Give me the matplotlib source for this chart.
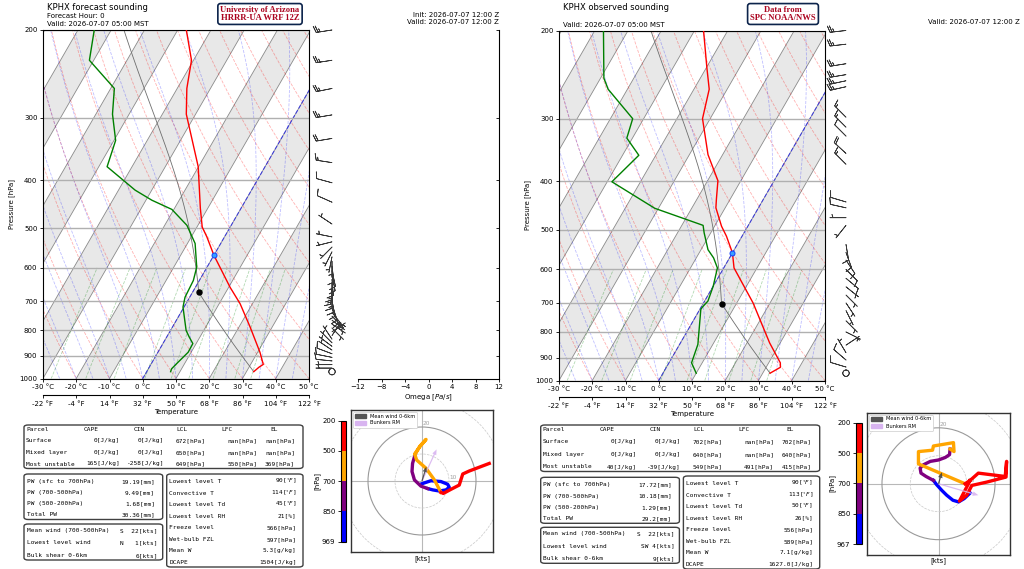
import numpy as np
import matplotlib
matplotlib.use('Agg')
import matplotlib.pyplot as plt
from matplotlib import transforms
from matplotlib.colors import ListedColormap, BoundaryNorm
from matplotlib.cm import ScalarMappable
from matplotlib.patches import FancyBboxPatch, Patch, Circle
from matplotlib.ticker import NullLocator, NullFormatter

# ======================= DATA =======================
# --- forecast sounding (HRRR-UA WRF) ---
f_T_p = [969, 949, 937, 886, 789, 708, 656, 566, 520, 497, 456, 376, 295, 262, 230, 200]
f_T = [32.2, 33.0, 33.8, 30.7, 23.4, 16.3, 10.4, 0.0, -5.3, -8.4, -12.2, -20.1, -32.8, -37.1, -40.6, -47.4]
f_Td_p = [969, 956, 934, 886, 851, 826, 801, 719, 687, 636, 598, 536, 493, 458, 439, 419, 376, 333, 295, 262, 230, 200]
f_Td = [7.2, 7.0, 7.6, 9.1, 9.0, 6.8, 4.7, -0.3, -1.4, -1.8, -3.1, -7.7, -13.3, -20.6, -28.2, -35.0, -47.5, -49.5, -55.0, -58.9, -71.3, -75.1]

# --- observed sounding (SPC) ---
o_T_p = [967, 941, 922, 841, 700, 596, 556, 515, 492, 452, 435, 399, 354, 300, 262, 237, 200]
o_T = [32.2, 34.3, 33.5, 26.8, 14.9, 3.1, 0.0, -4.7, -7.9, -12.8, -14.1, -16.9, -24.4, -32.3, -35.4, -39.9, -47.3]
o_Td_p = [967, 922, 847, 721, 713, 694, 648, 596, 569, 548, 507, 490, 453, 401, 355, 328, 300, 262, 249, 200]
o_Td = [10.0, 6.8, 5.5, 0.3, 0.4, 1.0, 0.0, -1.9, -4.8, -7.9, -12.0, -13.6, -31.1, -48.6, -45.1, -51.7, -53.3, -65.8, -69.0, -77.4]

# --- wind barbs (hPa, kts) ---
f_barb_p = [200, 230, 262, 296, 330, 369, 405, 443, 490, 520, 532, 545, 557, 570, 582, 595, 608, 620, 633,
            646, 659, 672, 685, 698, 711, 724, 737, 750, 764, 778, 792, 806, 820, 834, 848, 862, 877, 892,
            907, 922, 938, 953, 969]
f_barb_u = [26, 26, 25, 24, 18, 13, 11, 9, 6, 5, 4, 3, 2, 1, 0, -1, -2, -2, -1, 0, 1, 0, -1, -2, -3, -3,
            -4, -4, -4, -3, -3, -3, -2, 2, 3, 4, 6, 8, 10, 10, 7, 4, 0]
f_barb_v = [4, 4, 5, 4, 3, -2, -3, -4, -4, -1, 1, 3, 4, 5, 6, 8, 9, 10, 12, 13, 14, 13, 12, 10, 9, 7, 5,
            4, 3, 2, 3, -2, -3, -3, -3, -3, -4, -3, -2, -1, 0, 0, -1]
o_barb_p = [200, 213, 233, 245, 252, 259, 298, 312, 325, 352, 370, 440, 452, 473, 490, 535, 555, 575, 600,
            625, 650, 675, 700, 725, 760, 800, 850, 880, 910, 940, 967]
o_barb_u = [27, 26, 25, 24, 23, 22, 9, 9, 8, 13, 11, 10, 9, 6, 4, -2, -4, -6, -7, -6, -5, -3, -2, -3, -5,
            -6, -3, 3, 7, 10, 1]
o_barb_v = [3, 3, 4, 4, 5, 5, -9, -9, -8, -12, -11, -3, -2, 0, 5, 12, 11, 9, 7, 5, 4, 3, 3, 6, 5, 3, -2,
            -5, -6, -3, 1]

# --- hodographs (kts) per layer ---
f_blue_u = [0, 3.3, 7.0, 9.5, 10.1, 8.9, 6.4, 4.0, 2.1]
f_blue_v = [-1, 0.1, -0.2, -1.2, -2.3, -3.3, -3.7, -3.3, -2.8]
f_purple_u = [2.1, -0.4, -2.8, -3.7, -3.5, -2.5]
f_purple_v = [-2.8, -1.9, 0.4, 3.5, 6.5, 10.0]
f_orange_u = [-2.5, -0.7, 1.5, -1.0, -2.7, -2.0, 1.5, 4.6, 7.0]
f_orange_v = [10.0, 13.0, 15.4, 12.5, 10.0, 7.8, 4.7, 0.4, -4.2]
f_red_u = [7.0, 7.9, 10.7, 13.8, 15.1, 17.5, 21.2, 24.9]
f_red_v = [-4.2, -4.6, -3.1, -1.5, 2.6, 3.7, 5.1, 6.5]
f_mean_wind = [1.6, 5.3]
f_bunkers = [5.4, 11.7]

o_blue_u = [11.2, 9.1, 7.1, 5.1, 2.9, 1.2, -0.6, -1.8]
o_blue_v = [-3.3, -5.3, -6.5, -5.9, -4.1, -2.4, -0.4, 1.2]
o_purple_u = [-1.8, -4.4, -6.2, -6.5, -5.3, -2.9, 0.0, 2.4, 3.9, 4.1]
o_purple_v = [1.2, 2.6, 3.8, 5.6, 6.8, 8.0, 8.5, 9.4, 10.4, 12.4]
o_orange_u = [4.1, 5.5, 5.3, -1.8, -2.1, -7.1, -7.1, 9.4]
o_orange_v = [12.4, 11.5, 14.7, 13.5, 12.0, 11.5, 7.1, 0.0]
o_red_u = [9.4, 11.2, 7.4, 10.0, 11.8, 17.1, 23.9, 24.1, 23.6, 14.1, 11.2]
o_red_v = [0.0, 1.2, -6.2, -4.1, -0.6, 0.6, 2.4, 8.0, 2.6, 3.8, 1.2]
o_mean_wind = [1.2, 4.1]
o_bunkers = [14.1, -4.1]

hodo_bounds_f = [200, 500, 700, 850, 969]
hodo_bounds_o = [200, 500, 700, 850, 967]

# --- tables ---
parcel_names = ['Surface', 'Mixed layer', 'Most unstable']
f_cape = [0, 0, 165]
f_cin = [0, 0, -258]
f_lcl = [672, 650, 649]
f_lfc = [np.nan, np.nan, 550]
f_el = [np.nan, np.nan, 369]
o_cape = [0, 0, 40]
o_cin = [0, 0, -39]
o_lcl = [702, 640, 549]
o_lfc = [np.nan, np.nan, 491]
o_el = [702, 640, 415]

pw_names = ['PW (sfc to 700hPa)', 'PW (700-500hPa)', 'PW (500-200hPa)', 'Total PW']
f_pw = ['19.19', '9.49', '1.68', '30.36']
o_pw = ['17.72', '10.18', '1.29', '29.2']

wind_names = ['Mean wind (700-500hPa)', 'Lowest level wind', 'Bulk shear 0-6km']
f_wind = ['S  22', 'N   1', '6']
o_wind = ['S  22', 'SW 4', '9']

misc_names = ['Lowest level T', 'Convective T', 'Lowest level Td', 'Lowest level RH',
              'Freeze level', 'Wet-bulb FZL', 'Mean W', 'DCAPE']
misc_units = [r'[$^{\circ}F$]', r'[$^{\circ}F$]', r'[$^{\circ}F$]', '[%]', '[hPa]', '[hPa]', '[g/kg]', '[J/kg]']
f_misc = ['90', '114', '45', '21', '566', '597', '5.3', '1504']
o_misc = ['90', '113', '50', '26', '556', '589', '7.1', '1627.0']

f_sfc = (969, 32.2, 7.2)     # p, T, Td of lowest level
o_sfc = (967, 32.2, 10.0)
f_freeze = 566
o_freeze = 556

p_ticks = [200, 300, 400, 500, 600, 700, 800, 900, 1000]
c_ticks = [-30, -20, -10, 0, 10, 20, 30, 40, 50]
f_ticks = [-22, -4, 14, 32, 50, 68, 86, 104, 122]

# ======================= SETUP =======================
plt.rcParams['font.family'] = ['DejaVu Sans']
plt.rcParams['font.size'] = 5.0
plt.rcParams['axes.linewidth'] = 0.8
for a in ('xtick', 'ytick'):
    plt.rcParams[a + '.major.size'] = 2.5
    plt.rcParams[a + '.major.width'] = 0.6
    plt.rcParams[a + '.major.pad'] = 1.5
    plt.rcParams[a + '.labelsize'] = 5.0

W, H = 1024, 569
fig = plt.figure(figsize=(W / 100, H / 100), dpi=100)
fig.patch.set_facecolor('white')


def frect(x0, y0, x1, y1):
    return [x0 / W, 1 - y1 / H, (x1 - x0) / W, (y1 - y0) / H]


def ftext(x, y, s, **kw):
    kw.setdefault('va', 'center')
    return fig.text(x / W, 1 - y / H, s, **kw)


RD, CP, LV, EPS = 287.04, 1005.7, 2.501e6, 0.622


def es(tc):
    return 6.112 * np.exp(17.67 * tc / (tc + 243.5))


def dTdp(p, T):
    tc = T - 273.15
    e = es(tc)
    rs = EPS * e / (p - e)
    return (RD * T + LV * rs) / (p * (CP + LV * LV * rs * EPS / (RD * T * T)))


def moist_profile(t0c, p):
    T = np.empty((len(p),) + np.shape(t0c))
    T[0] = np.asarray(t0c) + 273.15
    for i in range(1, len(p)):
        h = p[i] - p[i - 1]
        x, y = p[i - 1], T[i - 1]
        k1 = dTdp(x, y)
        k2 = dTdp(x + h / 2, y + h / 2 * k1)
        k3 = dTdp(x + h / 2, y + h / 2 * k2)
        k4 = dTdp(x + h, y + h * k3)
        T[i] = y + h / 6 * (k1 + 2 * k2 + 2 * k3 + k4)
    return T - 273.15


def draw_skewt(px, T_p, T, Td_p, Td, sfc, lcl_p, frz_p):
    x0, y0, x1, y1 = px
    ax = fig.add_axes(frect(x0, y0, x1, y1))
    ax.set_yscale('log')
    ax.set_xlim(-30, 50)
    ax.set_ylim(1000, 200)
    ax.set_autoscale_on(False)
    shear = np.arctan(np.tan(np.radians(30)) * (y1 - y0) / (x1 - x0))
    sk = ax.transScale + ax.transLimits + transforms.Affine2D().skew(shear, 0) + ax.transAxes

    pp = np.geomspace(1050, 100, 120)
    for t in range(-120, 60, 20):
        ax.fill([t, t + 10, t + 10, t], [1050, 1050, 100, 100], transform=sk,
                color='#e8e8e8', lw=0, zorder=0.2)
    for t in range(-110, 70, 10):
        ax.plot([t, t], [1050, 100], transform=sk, color='#8a8a8a', lw=0.6, zorder=0.4)
    # dry adiabats
    for t0 in np.arange(-40, 201, 10):
        ax.plot((t0 + 273.15) * (pp / 1000.0) ** (RD / CP) - 273.15, pp, transform=sk,
                color='red', alpha=0.3, lw=0.6, ls='--', zorder=0.5)
    # moist adiabats
    pm = np.geomspace(1000, 100, 160)
    tm = moist_profile(np.arange(-40, 46, 5.0), pm)
    for j in range(tm.shape[1]):
        ax.plot(tm[:, j], pm, transform=sk, color='blue', alpha=0.25, lw=0.6, ls='--', zorder=0.5)
    # mixing ratio lines
    pw_ = np.linspace(1000, 600, 30)
    for w in [0.4, 1, 2, 4, 7, 10, 16, 24, 32]:
        wk = w / 1000.0
        e = wk * pw_ / (EPS + wk)
        l = np.log(e / 6.112)
        ax.plot(243.5 * l / (17.67 - l), pw_, transform=sk, color='green', alpha=0.3,
                lw=0.6, ls='--', zorder=0.5)
    # 0 C isotherm
    ax.plot([0, 0], [1050, 100], transform=sk, color='blue', alpha=0.6, lw=0.8, ls='--', zorder=0.6)

    # parcel path
    p_s, t_s, td_s = sfc
    pd = np.linspace(p_s, lcl_p, 40)
    td_path = (t_s + 273.15) * (pd / p_s) ** (RD / CP) - 273.15
    t_lcl = td_path[-1]
    pmo = np.geomspace(lcl_p, 150, 120)
    tmo = moist_profile(t_lcl, pmo)
    ax.plot(np.r_[td_path, tmo[1:]], np.r_[pd, pmo[1:]], transform=sk, color='#6e6e6e',
            lw=0.6, zorder=2)
    ax.plot([t_lcl], [lcl_p], 'o', color='black', ms=3.6, transform=sk, zorder=4)

    ax.plot(T, T_p, transform=sk, color='red', lw=1.0, zorder=3)
    ax.plot(Td, Td_p, transform=sk, color='green', lw=1.0, zorder=3)
    ax.plot([0], [frz_p], 'o', transform=sk, mfc='#39a0ff', mec='#1040ff', ms=3.6, mew=0.7, zorder=4)

    ax.set_yticks(p_ticks)
    ax.set_yticklabels([str(p) for p in p_ticks])
    ax.yaxis.set_minor_locator(NullLocator())
    ax.yaxis.set_minor_formatter(NullFormatter())
    ax.grid(True, axis='y', color='#b0b0b0', lw=1.0)
    ax.set_xticks(c_ticks)
    ax.set_xticklabels([f'{c} °C' for c in c_ticks])
    ax.set_ylabel('Pressure [hPa]', labelpad=3)
    sec = ax.secondary_xaxis(-0.048, functions=(lambda c: c * 1.8 + 32, lambda f: (f - 32) / 1.8))
    sec.set_xticks(f_ticks)
    sec.set_xticklabels([f'{v} °F' for v in f_ticks])
    sec.set_xlabel('Temperature', labelpad=1.5)
    return ax


def draw_barbs(px, bp, bu, bv):
    x0, y0, x1, y1 = px
    ax = fig.add_axes(frect(x0, y0, x1, y1))
    ax.set_yscale('log')
    ax.set_ylim(1000, 200)
    ax.set_xlim(0, 1)
    ax.axis('off')
    ax.barbs(np.full(len(bp), 0.5), bp, bu, bv, length=4.8, lw=0.55, color='#383838',
             clip_on=False, sizes=dict(emptybarb=0.2))
    return ax


def draw_hodo(px, lim, layers, mean_uv, bunk_uv, cpx, bounds):
    x0, y0, x1, y1 = px
    ax = fig.add_axes(frect(x0, y0, x1, y1))
    ax.set_xlim(-lim, lim)
    ax.set_ylim(-lim, lim)
    ax.set_xticks([])
    ax.set_yticks([])
    for s in ax.spines.values():
        s.set_color('#333333')
        s.set_linewidth(1.0)
    ax.axhline(0, color='#b8b8b8', lw=0.8, zorder=1)
    ax.axvline(0, color='#b8b8b8', lw=0.8, zorder=1)
    for r in (10, 20, 30, 40):
        solid = (r % 20 == 0)
        ax.add_patch(Circle((0, 0), r, fill=False, ec='#9a9a9a' if solid else '#c8c8c8',
                            ls='-' if solid else '--', lw=0.8 if solid else 0.5, zorder=1))
    ax.text(10.2, 0.2, '10', color='#a0a0a0', fontsize=4.2, ha='left', va='bottom', zorder=1)
    ax.text(0.3, 20.2, '20', color='#a0a0a0', fontsize=4.2, ha='left', va='bottom', zorder=1)
    for (u, v), c in zip(layers, ['blue', 'purple', 'orange', 'red']):
        ax.plot(u, v, color=c, lw=2.4, zorder=3)
    ax.arrow(0, 0, bunk_uv[0], bunk_uv[1], width=0.45, head_width=1.6, head_length=2.0,
             length_includes_head=True, color='#d8b4f0', alpha=0.9, zorder=4, lw=0)
    ax.arrow(0, 0, mean_uv[0], mean_uv[1], width=0.45, head_width=1.6, head_length=2.0,
             length_includes_head=True, color='#3c3c3c', alpha=0.85, zorder=5, lw=0)
    leg = ax.legend([Patch(color='#555555'), Patch(color='#d8b4f0')],
                    ['Mean wind 0-6km', 'Bunkers RM'], loc='upper left', fontsize=3.6,
                    handlelength=2.2, handleheight=0.9, borderpad=0.4, labelspacing=0.4,
                    framealpha=1.0, fancybox=True, borderaxespad=0.3)
    leg.get_frame().set_linewidth(0.5)
    ax.set_xlabel('[kts]', labelpad=2, fontsize=5.0)

    cax = fig.add_axes(frect(*cpx))
    cmap = ListedColormap(['red', 'orange', 'purple', 'blue'])
    norm = BoundaryNorm(bounds, cmap.N)
    cb = fig.colorbar(ScalarMappable(norm=norm, cmap=cmap), cax=cax, ticks=bounds, spacing='uniform')
    cb.ax.invert_yaxis()
    cax.yaxis.set_ticks_position('left')
    cax.yaxis.set_label_position('left')
    cb.set_label('[hPa]', labelpad=1, fontsize=5.0)
    cb.outline.set_linewidth(0.8)
    cax.tick_params(labelsize=5.0, length=2.5, width=0.6)
    return ax


def draw_box(x0, y0, x1, y1):
    fig.add_artist(FancyBboxPatch((x0 / W, 1 - y1 / H), (x1 - x0) / W, (y1 - y0) / H,
                                  boxstyle='round,pad=0,rounding_size=0.004',
                                  transform=fig.transFigure, fc='white', ec='#404040', lw=1.0))


MONO = dict(family='DejaVu Sans Mono', fontsize=4.4)


def draw_tables(dx, cape, cin, lcl, lfc, el, pw, wind, misc, t1_bottom, t2_y, t3_y, t4_y):
    # parcel table
    draw_box(24 + dx, 425, 303 + dx, t1_bottom)
    rows_y = np.linspace(429.3, t1_bottom - 4.5, 4)
    ftext(26 + dx, rows_y[0], 'Parcel', **MONO)
    for xh, s in zip([83.3, 133.3, 176.7, 221.7, 270], ['CAPE', 'CIN', 'LCL', 'LFC', 'EL']):
        ftext(xh + dx, rows_y[0], s, **MONO)
    for i, name in enumerate(parcel_names):
        y = rows_y[i + 1]
        ftext(26 + dx, y, name, **MONO)
        ftext(120 + dx, y, f'{cape[i]:.0f}[J/kg]', ha='right', **MONO)
        ftext(164 + dx, y, f'{cin[i]:.0f}[J/kg]', ha='right', **MONO)
        ftext(205.7 + dx, y, f'{lcl[i]:.0f}[hPa]', ha='right', **MONO)
        ftext(257.3 + dx, y, f'{lfc[i]:.0f}[hPa]', ha='right', **MONO)
        ftext(295 + dx, y, f'{el[i]:.0f}[hPa]', ha='right', **MONO)
    # PW table
    draw_box(24 + dx, t2_y[0], 162.7 + dx, t2_y[1])
    for i, (name, v) in enumerate(zip(pw_names, pw)):
        y = t2_y[0] + 7.5 + i * (t2_y[1] - t2_y[0] - 12) / 3
        ftext(26.7 + dx, y, name, **MONO)
        ftext(155 + dx, y, f'{v}[mm]', ha='right', **MONO)
    # wind table
    draw_box(24 + dx, t3_y[0], 162.7 + dx, t3_y[1])
    for i, (name, v) in enumerate(zip(wind_names, wind)):
        y = t3_y[0] + 6.5 + i * (t3_y[1] - t3_y[0] - 11) / 2
        ftext(26.7 + dx, y, name, **MONO)
        ftext(158 + dx, y, f'{v}[kts]', ha='right', **MONO)
    # misc table
    draw_box(166.7 + dx, t4_y[0], 303 + dx, t4_y[1])
    for i, (name, v, u) in enumerate(zip(misc_names, misc, misc_units)):
        y = t4_y[0] + 7.5 + i * (t4_y[1] - t4_y[0] - 12) / 7
        ftext(169.3 + dx, y, name, **MONO)
        ftext(296.5 + dx, y, v + u, ha='right', **MONO)


# ======================= LEFT: FORECAST =======================
axL = draw_skewt((43, 30, 309, 378.5), f_T_p, f_T, f_Td_p, f_Td, f_sfc, f_lcl[0], f_freeze)
draw_barbs((318, 30, 346, 378.5), f_barb_p, f_barb_u, f_barb_v)

axO = fig.add_axes(frect(358, 30, 499, 378.5))
axO.set_yscale('log')
axO.set_ylim(1000, 200)
axO.set_xlim(-12, 12)
axO.set_xticks(range(-12, 13, 4))
axO.set_yticks(p_ticks)
axO.yaxis.set_minor_locator(NullLocator())
axO.yaxis.tick_right()
axO.tick_params(axis='y', direction='in', labelright=False, labelleft=False)
axO.spines['left'].set_visible(False)
axO.spines['top'].set_visible(False)
axO.set_xlabel('Omega [$Pa/s$]', labelpad=1.5)

draw_hodo((351, 410, 493, 552), 26.3,
          [(f_blue_u, f_blue_v), (f_purple_u, f_purple_v), (f_orange_u, f_orange_v), (f_red_u, f_red_v)],
          f_mean_wind, f_bunkers, (341, 420.7, 346, 541.7), hodo_bounds_f)

draw_tables(0, f_cape, f_cin, f_lcl, f_lfc, f_el, f_pw, f_wind, f_misc, 468.5,
            (474, 519.5), (524, 560), (474, 567))

ftext(46.7, 7, 'KPHX forecast sounding', fontsize=6.0)
ftext(46.7, 16, 'Forecast Hour: 0', fontsize=5.0)
ftext(46.7, 24, 'Valid: 2026-07-07 05:00 MST', fontsize=5.0)
ftext(499, 14.7, 'Init: 2026-07-07 12:00 Z', fontsize=5.0, ha='right')
ftext(499, 22, 'Valid: 2026-07-07 12:00 Z', fontsize=5.0, ha='right')
ftext(260, 14, 'University of Arizona\nHRRR-UA WRF 12Z', fontsize=6.2, family='Liberation Serif',
      weight='bold', color='#AB0520', ha='center', linespacing=0.95, multialignment='center',
      bbox=dict(boxstyle='round,pad=0.3', fc='white', ec='#0C234B', lw=1.2))

# ======================= RIGHT: OBSERVED =======================
axR = draw_skewt((559, 30.5, 825, 380.5), o_T_p, o_T, o_Td_p, o_Td, o_sfc, o_lcl[0], o_freeze)
draw_barbs((832, 30.5, 860, 380.5), o_barb_p, o_barb_u, o_barb_v)

draw_hodo((867, 413, 1010, 554.5), 25.3,
          [(o_blue_u, o_blue_v), (o_purple_u, o_purple_v), (o_orange_u, o_orange_v), (o_red_u, o_red_v)],
          o_mean_wind, o_bunkers, (856, 422.7, 861.5, 544.3), hodo_bounds_o)

draw_tables(516.7, o_cape, o_cin, o_lcl, o_lfc, o_el, o_pw, o_wind, o_misc, 471.5,
            (477.3, 523.3), (527.3, 563.3), (476, 569))

ftext(563, 7, 'KPHX observed sounding', fontsize=6.0)
ftext(563, 25, 'Valid: 2026-07-07 05:00 MST', fontsize=5.0)
ftext(1020, 22, 'Valid: 2026-07-07 12:00 Z', fontsize=5.0, ha='right')
ftext(783, 14, 'Data from\nSPC NOAA/NWS', fontsize=6.2, family='Liberation Serif',
      weight='bold', color='#AB0520', ha='center', linespacing=0.95, multialignment='center',
      bbox=dict(boxstyle='round,pad=0.3', fc='white', ec='#0C234B', lw=1.2))

fig.savefig('out.png', dpi=100, facecolor='white')
